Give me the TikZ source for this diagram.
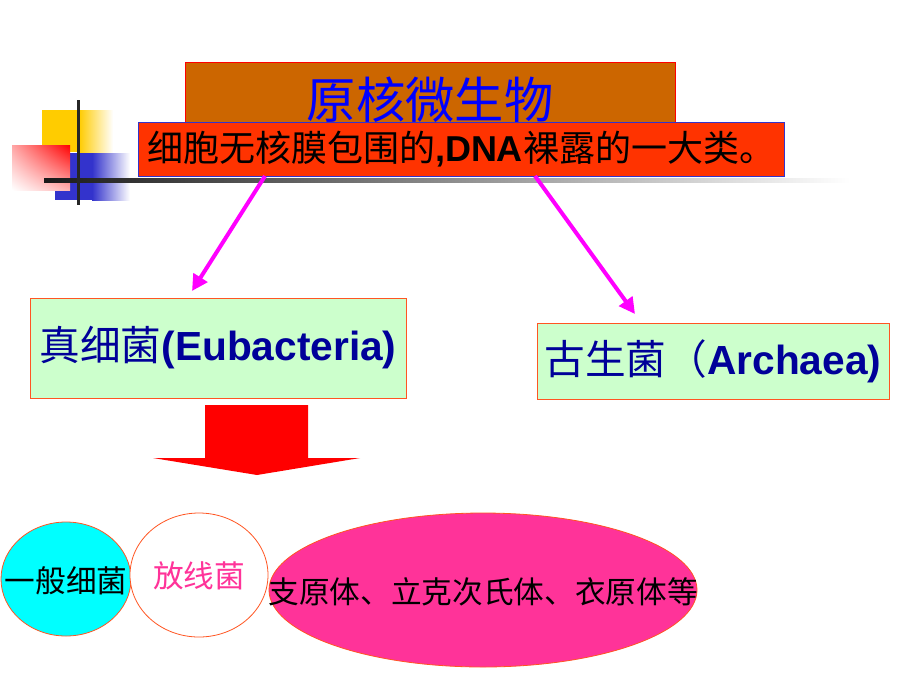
\documentclass[tikz,border=0pt]{standalone}
\usepackage{fontspec}
\setmainfont{Liberation Sans}
\newfontfamily\cjk{Noto Sans CJK SC}
\usetikzlibrary{arrows.meta,shapes.geometric,shadings}
\definecolor{brownbox}{HTML}{CC6600}
\definecolor{redbox}{HTML}{FF3300}
\definecolor{greenbox}{HTML}{CCFFCC}
\definecolor{pinkell}{HTML}{FF3399}
\definecolor{edgeor}{HTML}{FF5522}
\definecolor{navy}{HTML}{000099}
\definecolor{yel}{HTML}{FFCC00}
\definecolor{blu}{HTML}{3333CC}
\definecolor{cyanfill}{HTML}{00FFFF}
\definecolor{magline}{HTML}{FF00FF}
\tikzset{
  greenrect/.style={draw=edgeor, fill=greenbox, line width=0.6pt, inner sep=0pt, text=navy},
  ellline/.style={draw=edgeor, line width=0.6pt},
  elltext/.style={inner sep=0pt, font=\fontsize{23pt}{26pt}\selectfont\cjk},
  maglink/.style={draw=magline, line width=3pt, -{Triangle[length=12pt,width=12pt]}},
}
\begin{document}
\begin{tikzpicture}[x=0.75pt,y=-0.75pt]
\useasboundingbox (0,0) rectangle (920,690);
% decorative squares
\fill[yel] (42,110) rectangle (79,152);
\shade[left color=yel, right color=white] (79,110) rectangle (113,152);
\fill[blu] (55,153) rectangle (92,200);
\shade[left color=blu, right color=white] (92,153) rectangle (130,200);
\shade[upper right=red, upper left=red!35, lower right=red!30, lower left=white] (12,145) rectangle (70,190);
\shade[left color=black!90, right color=white] (44,178) rectangle (850,182);
\fill[black!85] (77,100) rectangle (80,205);
% title box
\node[draw=red, fill=brownbox, line width=0.4pt, minimum width=367.5pt, minimum height=45pt, inner sep=0pt] (titlebox) at (430,92) {};
\node[text=blue, inner sep=0pt] (title) at (430,100) {\fontsize{37pt}{40pt}\selectfont\cjk 原核微生物};
% definition box
\node[draw=blu, fill=redbox, line width=0.6pt, minimum width=484.5pt, minimum height=40.5pt, inner sep=0pt] (def) at (461,149)
  {\fontsize{27pt}{30pt}\selectfont{\cjk 细胞无核膜包围的}\textbf{,DNA}{\cjk 裸露的一大类。}};
% category boxes
\node[greenrect, minimum width=282pt, minimum height=75pt] (eu) at (218,348)
  {\fontsize{30.5pt}{34pt}\selectfont{\cjk 真细菌}\textbf{(Eubacteria)}};
\node[greenrect, minimum width=264pt, minimum height=57pt] (ar) at (713,361)
  {\fontsize{30.5pt}{34pt}\selectfont{\cjk 古生菌（}\textbf{Archaea)}};
% connectors
\coordinate (s1) at (265,176);
\coordinate (e1) at (192,291);
\coordinate (s2) at (535,176);
\coordinate (e2) at (635,314);
\draw[maglink] (s1) -- (e1);
\draw[maglink] (s2) -- (e2);
% big red arrow
\fill[red] (205,405) -- (308,405) -- (308,458) -- (360,458) -- (257,475) -- (153,458) -- (205,458) -- cycle;
% ellipses
\path[ellline, fill=cyanfill] (66,579) ellipse [x radius=65, y radius=57];
\node[elltext] (gen) at (66,581) {一般细菌};
\path[ellline, fill=white] (199,575) ellipse [x radius=69, y radius=62];
\node[elltext, text=pinkell] (act) at (199,576) {放线菌};
\path[ellline, fill=pinkell] (483,590) ellipse [x radius=214, y radius=77];
\node[elltext] (myc) at (483,592) {支原体、立克次氏体、衣原体等};
\end{tikzpicture}
\end{document}
